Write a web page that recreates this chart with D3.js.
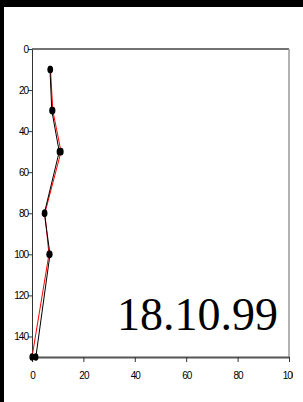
<!DOCTYPE html>
<html><head><meta charset="utf-8">
<script src="https://cdn.jsdelivr.net/npm/d3@7"></script>
<style>html,body{margin:0;padding:0;background:#000;overflow:hidden}</style>
</head><body><script>
const depths = [10, 30, 50, 80, 100, 150];
const seriesBlack = [7.0, 7.7, 10.6, 4.8, 7.0, 1.5];
const seriesRed = [7.2, 8.1, 11.3, 5.0, 6.6, 0.0];
const xTicks = [0, 20, 40, 60, 80, 100];
const yTicks = [0, 20, 40, 60, 80, 100, 120, 140];
const title = "18.10.99";

const W = 303, H = 402;
const svg = d3.select("body").append("svg").attr("width", W).attr("height", H);
svg.append("rect").attr("x", 4).attr("y", 7).attr("width", W - 4).attr("height", H - 7).attr("fill", "#fff");

const x = d3.scaleLinear().domain([0, 100]).range([32, 289]);
const y = d3.scaleLinear().domain([0, 150]).range([49, 357]);

svg.append("clipPath").attr("id", "clip").append("rect").attr("x", 0).attr("y", 0).attr("width", 293).attr("height", H);
const g = svg.append("g").attr("clip-path", "url(#clip)");

// frame
g.append("line").attr("x1", x(0)).attr("x2", x(100)).attr("y1", y(0)).attr("y2", y(0)).attr("stroke", "#444").attr("stroke-width", 1.5);
g.append("line").attr("x1", x(100)).attr("x2", x(100)).attr("y1", y(0)).attr("y2", y(150)).attr("stroke", "#999").attr("stroke-width", 1.5);

// axes
const xAxis = d3.axisBottom(x).tickValues(xTicks).tickSize(5).tickSizeOuter(0).tickFormat(d3.format("d"));
const yAxis = d3.axisLeft(y).tickValues(yTicks).tickSize(4).tickSizeOuter(0).tickFormat(d3.format("d"));
const gx = g.append("g").attr("transform", `translate(0,${y(150)})`).call(xAxis);
const gy = g.append("g").attr("transform", `translate(${x(0)},0)`).call(yAxis);
gy.select(".domain").attr("stroke", "#333").attr("stroke-width", 1);
gx.select(".domain").attr("stroke", "#555").attr("stroke-width", 2);
[gx, gy].forEach(a => {
  a.selectAll(".tick line").attr("stroke", "#333");
  a.selectAll("text").attr("font-family", "Liberation Sans, Arial, sans-serif").attr("font-size", 10)
    .attr("letter-spacing", -1).attr("fill", "#000");
});
gx.selectAll("text").attr("dy", null).attr("y", 22);
gy.selectAll("text").attr("x", -4);

const line = vals => d3.line().x((d, i) => x(vals[i])).y(d => y(d))(depths);
g.append("path").attr("d", line(seriesRed)).attr("fill", "none").attr("stroke", "#f00").attr("stroke-width", 1);
g.append("path").attr("d", line(seriesBlack)).attr("fill", "none").attr("stroke", "#000").attr("stroke-width", 1);

[seriesRed, seriesBlack].forEach(vals => {
  g.selectAll(null).data(depths).enter().append("ellipse")
    .attr("cx", (d, i) => x(vals[i])).attr("cy", d => y(d))
    .attr("rx", 2.6).attr("ry", 3.8).attr("fill", "#000");
});

svg.append("text").attr("x", 278).attr("y", 330).attr("text-anchor", "end")
  .attr("font-family", "Liberation Serif, Times New Roman, serif").attr("font-size", 46)
  .attr("fill", "#000").text(title);
</script></body></html>
